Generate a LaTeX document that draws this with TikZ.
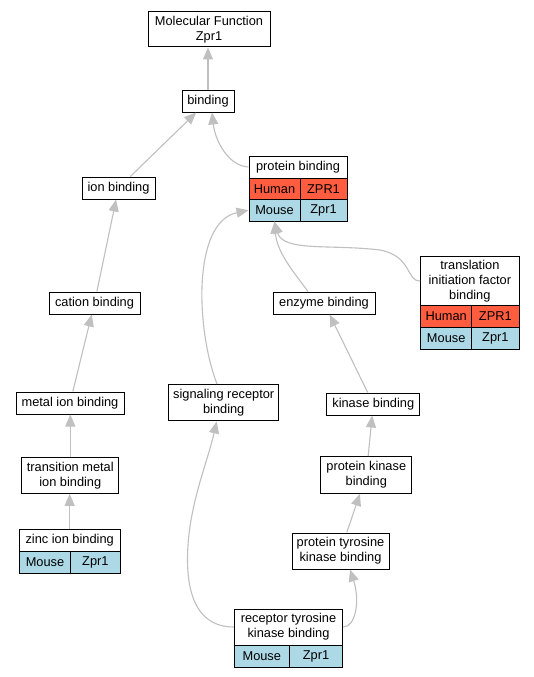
\documentclass[tikz,border=0pt]{standalone}
\usepackage{fontspec}
\setmainfont{Liberation Sans}
\usetikzlibrary{arrows.meta,calc}
\definecolor{hum}{HTML}{FF5C40}
\definecolor{mou}{HTML}{ADD8E6}
\definecolor{edgec}{HTML}{C0C0C0}
\begin{document}
\begin{tikzpicture}[x=1pt,y=-1pt,
  box/.style={draw=black,line width=1pt,fill=white,inner sep=0pt,align=center,font=\fontsize{12.8}{15}\selectfont},
  hcell/.style={box,fill=hum},
  mcell/.style={box,fill=mou},
  conn/.style={draw=edgec,line width=1.1pt,-{Triangle[length=12pt,width=10pt,fill=edgec]}}]
\useasboundingbox[fill=white] (0,0) rectangle (533,677);

% nodes
\node[box,minimum width=122pt,minimum height=35pt] (mf) at (209,29.5) {Molecular Function\\Zpr1};
\node[box,minimum width=52pt,minimum height=22pt] (bind) at (208,101) {binding};

\node[box,minimum width=98pt,minimum height=22pt] (pb) at (298,167) {protein binding};
\node[hcell,minimum width=51pt,minimum height=21.5pt] (pbh1) at (274.5,188.75) {Human};
\node[hcell,minimum width=47pt,minimum height=21.5pt] (pbh2) at (323.5,188.75) {ZPR1};
\node[mcell,minimum width=51pt,minimum height=21.5pt] (pbm1) at (274.5,210.25) {Mouse};
\node[mcell,minimum width=47pt,minimum height=21.5pt] (pbm2) at (323.5,210.25) {Zpr1};

\node[box,minimum width=73pt,minimum height=22pt] (ion) at (118.5,188) {ion binding};
\node[box,minimum width=91pt,minimum height=22pt] (cat) at (94.5,303) {cation binding};
\node[box,minimum width=102pt,minimum height=22pt] (enz) at (324,303) {enzyme binding};

\node[box,minimum width=98.3pt,minimum height=49pt] (tr) at (469.85,281.2) {translation\\initiation factor\\binding};
\node[hcell,minimum width=51pt,minimum height=21.6pt] (trh1) at (446.2,316.5) {Human};
\node[hcell,minimum width=47.3pt,minimum height=21.6pt] (trh2) at (495.35,316.5) {ZPR1};
\node[mcell,minimum width=51pt,minimum height=21.7pt] (trm1) at (446.2,338.15) {Mouse};
\node[mcell,minimum width=47.3pt,minimum height=21.7pt] (trm2) at (495.35,338.15) {Zpr1};

\node[box,minimum width=108pt,minimum height=22pt] (met) at (70,403) {metal ion binding};
\node[box,minimum width=109.5pt,minimum height=36.5pt] (sig) at (223.7,402.7) {signaling receptor\\binding};
\node[box,minimum width=93pt,minimum height=22pt] (kin) at (373.3,404) {kinase binding};

\node[box,minimum width=97pt,minimum height=36pt] (tm) at (70.3,475.3) {transition metal\\ion binding};
\node[box,minimum width=90.7pt,minimum height=36.6pt] (pk) at (366.3,475) {protein kinase\\binding};

\node[box,minimum width=100.7pt,minimum height=22.7pt] (zn) at (69.65,540.35) {zinc ion binding};
\node[mcell,minimum width=51.4pt,minimum height=21.6pt] (znm1) at (45,562.5) {Mouse};
\node[mcell,minimum width=49.3pt,minimum height=21.6pt] (znm2) at (95.35,562.5) {Zpr1};

\node[box,minimum width=97pt,minimum height=36pt] (pty) at (340.5,551) {protein tyrosine\\kinase binding};

\node[box,minimum width=108.4pt,minimum height=36pt] (rtk) at (288.5,627) {receptor tyrosine\\kinase binding};
\node[mcell,minimum width=55pt,minimum height=22.3pt] (rtkm1) at (261.8,656.15) {Mouse};
\node[mcell,minimum width=53.4pt,minimum height=22.3pt] (rtkm2) at (316,656.15) {Zpr1};

% connectors
\draw[conn] (bind.north) -- (bind.north |- mf.south);
\draw[conn] (ion) -- (bind);
\draw[conn] (pb.west) .. controls (228,166) and (215,140) .. ($(bind.south)+(4,0)$);
\draw[conn] (cat) -- (ion);
\draw[conn] (met) -- (cat);
\draw[conn] (tm.north) -- (tm.north |- met.south);
\draw[conn] (zn.north) -- (zn.north |- tm.south);
\draw[conn] (kin) -- (enz);
\draw[conn] (pk) -- (kin);
\draw[conn] (pty) -- (pk);
\draw[conn] ($(enz.north)+(-16,0)$) .. controls (292,270) and (277,252) .. (pbm1.south);
\draw[conn] (tr.west) .. controls (406,281) and (412,256) .. (380,250) .. controls (330,244) and (283,252) .. (pbm1.south);
\draw[conn] ($(sig.north)+(-6.7,0)$) .. controls (196,330) and (192,222) .. (pbm1.west);
\draw[conn] (rtk.west) .. controls (195,627) and (185,590) .. (188,545) .. controls (191,500) and (208,460) .. ($(sig.south)+(-7,0)$);
\draw[conn] (rtk.east) .. controls (356,627) and (360,600) .. ($(pty.south)+(9.5,0)$);
\end{tikzpicture}
\end{document}
